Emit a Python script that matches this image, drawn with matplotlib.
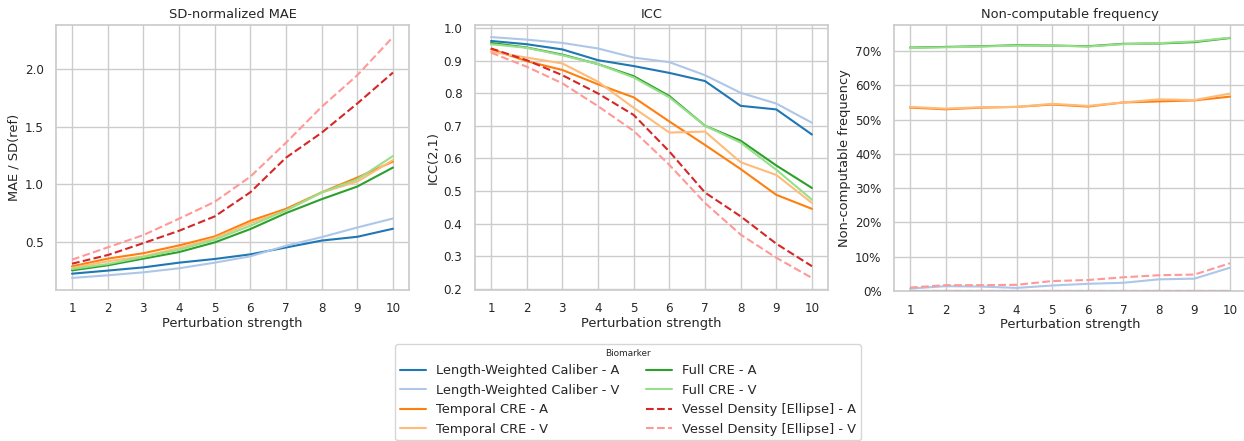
import matplotlib
matplotlib.use("Agg")
import matplotlib.pyplot as plt
import seaborn as sns
from matplotlib.ticker import PercentFormatter

sns.set_theme(style="whitegrid")
plt.rcParams['font.family'] = ['DejaVu Sans']

strength = [1, 2, 3, 4, 5, 6, 7, 8, 9, 10]

labels = [
    "Length-Weighted Caliber - A", "Length-Weighted Caliber - V",
    "Temporal CRE - A", "Temporal CRE - V",
    "Full CRE - A", "Full CRE - V",
    "Vessel Density [Ellipse] - A", "Vessel Density [Ellipse] - V",
]
colors = ["#1f77b4", "#aec7e8", "#ff7f0e", "#ffbb78",
          "#2ca02c", "#98df8a", "#d62728", "#ff9896"]
styles = ["-", "-", "-", "-", "-", "-", "--", "--"]

mae_lwc_a = [0.222, 0.249, 0.277, 0.318, 0.350, 0.390, 0.450, 0.510, 0.543, 0.613]
mae_lwc_v = [0.185, 0.208, 0.234, 0.269, 0.318, 0.373, 0.465, 0.540, 0.624, 0.702]
mae_tcre_a = [0.286, 0.353, 0.400, 0.468, 0.546, 0.682, 0.786, 0.930, 1.058, 1.197]
mae_tcre_v = [0.272, 0.330, 0.373, 0.445, 0.532, 0.662, 0.772, 0.928, 1.023, 1.210]
mae_fcre_a = [0.251, 0.295, 0.353, 0.410, 0.494, 0.610, 0.749, 0.870, 0.980, 1.145]
mae_fcre_v = [0.263, 0.306, 0.367, 0.430, 0.517, 0.639, 0.772, 0.928, 1.043, 1.245]
mae_vd_a = [0.309, 0.384, 0.488, 0.595, 0.720, 0.930, 1.231, 1.448, 1.702, 1.971]
mae_vd_v = [0.344, 0.451, 0.558, 0.700, 0.847, 1.066, 1.361, 1.673, 1.948, 2.280]

icc_lwc_a = [0.960, 0.950, 0.934, 0.901, 0.883, 0.862, 0.837, 0.761, 0.750, 0.673]
icc_lwc_v = [0.972, 0.964, 0.954, 0.937, 0.909, 0.895, 0.855, 0.801, 0.768, 0.709]
icc_tcre_a = [0.935, 0.898, 0.871, 0.827, 0.787, 0.713, 0.641, 0.567, 0.488, 0.445]
icc_tcre_v = [0.927, 0.909, 0.891, 0.835, 0.755, 0.679, 0.682, 0.588, 0.549, 0.463]
icc_fcre_a = [0.954, 0.940, 0.918, 0.889, 0.852, 0.791, 0.700, 0.654, 0.578, 0.509]
icc_fcre_v = [0.950, 0.939, 0.916, 0.889, 0.848, 0.787, 0.700, 0.648, 0.565, 0.473]
icc_vd_a = [0.937, 0.901, 0.855, 0.799, 0.733, 0.621, 0.495, 0.422, 0.338, 0.269]
icc_vd_v = [0.924, 0.881, 0.830, 0.760, 0.684, 0.580, 0.463, 0.366, 0.295, 0.233]

nc_lwc_a = [0.0, 0.0, 0.0, 0.0, 0.0, 0.0, 0.0, 0.0, 0.0, 0.0]
nc_lwc_v = [0.007, 0.014, 0.013, 0.009, 0.016, 0.021, 0.024, 0.034, 0.036, 0.068]
nc_tcre_a = [0.535, 0.530, 0.535, 0.537, 0.544, 0.538, 0.550, 0.553, 0.556, 0.567]
nc_tcre_v = [0.537, 0.532, 0.536, 0.537, 0.546, 0.540, 0.550, 0.559, 0.557, 0.576]
nc_fcre_a = [0.710, 0.712, 0.714, 0.717, 0.716, 0.714, 0.721, 0.722, 0.726, 0.738]
nc_fcre_v = [0.709, 0.711, 0.713, 0.716, 0.716, 0.713, 0.720, 0.723, 0.728, 0.739]
nc_vd_a = [0.0, 0.0, 0.0, 0.0, 0.0, 0.0, 0.0, 0.0, 0.0, 0.0]
nc_vd_v = [0.010, 0.017, 0.017, 0.018, 0.029, 0.032, 0.040, 0.046, 0.048, 0.081]

mae = [mae_lwc_a, mae_lwc_v, mae_tcre_a, mae_tcre_v, mae_fcre_a, mae_fcre_v, mae_vd_a, mae_vd_v]
icc = [icc_lwc_a, icc_lwc_v, icc_tcre_a, icc_tcre_v, icc_fcre_a, icc_fcre_v, icc_vd_a, icc_vd_v]
nc = [nc_lwc_a, nc_lwc_v, nc_tcre_a, nc_tcre_v, nc_fcre_a, nc_fcre_v, nc_vd_a, nc_vd_v]

W, H = 1244, 441
fig = plt.figure(figsize=(W / 100, H / 100), dpi=100)

def box(l, r, t, b):
    return [l / W, 1 - b / H, (r - l) / W, (b - t) / H]

ax1 = fig.add_axes(box(56, 409, 25, 290))
ax2 = fig.add_axes(box(475, 828, 25, 290))
ax3 = fig.add_axes(box(894, 1246, 25, 291))

LFS = 9.4
TFS = 8.6

handles = []
for i in range(8):
    h, = ax1.plot(strength, mae[i], color=colors[i], ls=styles[i], lw=1.5, label=labels[i])
    handles.append(h)
    ax2.plot(strength, icc[i], color=colors[i], ls=styles[i], lw=1.5)
    ax3.plot(strength, nc[i], color=colors[i], ls=styles[i], lw=1.5)

ax1.set_title("SD-normalized MAE", fontsize=LFS, pad=5)
ax1.set_ylabel("MAE / SD(ref)", fontsize=LFS, labelpad=3)
ax2.set_title("ICC", fontsize=LFS, pad=5)
ax2.set_ylabel("ICC(2,1)", fontsize=LFS, labelpad=3)
ax3.set_title("Non-computable frequency", fontsize=LFS, pad=5)
ax3.set_ylabel("Non-computable frequency", fontsize=LFS, labelpad=3)
ax3.set_ylim(bottom=0)
ax3.yaxis.set_major_formatter(PercentFormatter(xmax=1, decimals=0))

ax1.set_yticks([0.5, 1.0, 1.5, 2.0])
for ax in (ax1, ax2, ax3):
    ax.set_xticks(strength)
    ax.set_xlabel("Perturbation strength", fontsize=LFS, labelpad=1)
    ax.tick_params(labelsize=TFS, pad=3)

leg = fig.legend(handles=handles, labels=labels, title="Biomarker", ncol=2,
                 loc="upper left", bbox_to_anchor=(395 / W, 1 - 344 / H),
                 borderaxespad=0, fontsize=LFS, title_fontsize=6.4, frameon=True,
                 labelspacing=0.5, columnspacing=2.0, borderpad=0.35)

fig.savefig("out.png", dpi=100)
